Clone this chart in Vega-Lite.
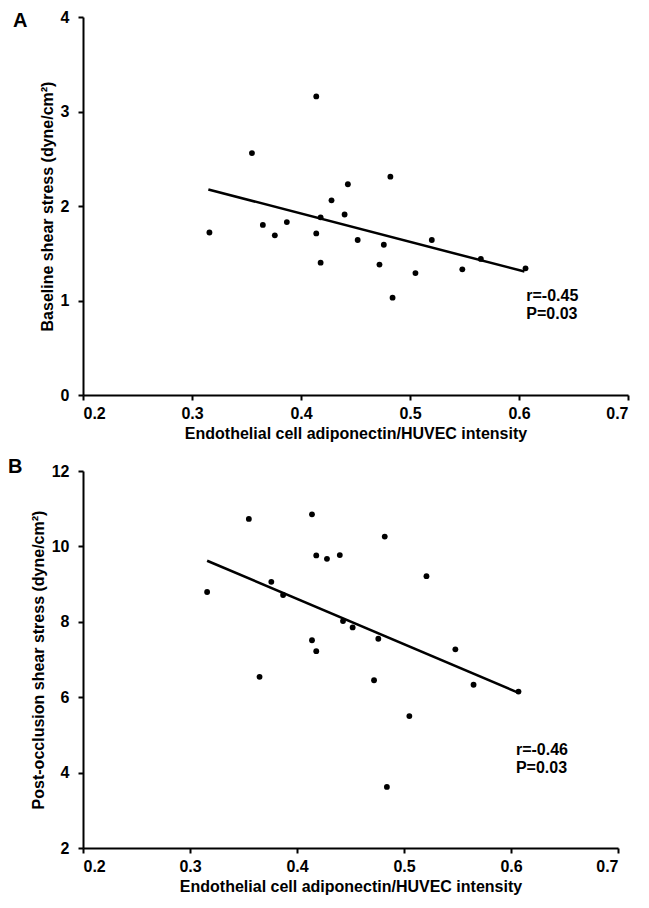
{
  "$schema": "https://vega.github.io/schema/vega-lite/v6.json",
  "padding": {"left": 8, "top": 9, "right": 5, "bottom": 5},
  "background": "white",
  "bounds": "flush",
  "spacing": 76,
  "datasets": {
    "ptsA": [
      {"x": 0.316, "y": 1.72}, {"x": 0.355, "y": 2.56}, {"x": 0.365, "y": 1.80}, {"x": 0.376, "y": 1.69},
      {"x": 0.387, "y": 1.83}, {"x": 0.414, "y": 3.16}, {"x": 0.414, "y": 1.71}, {"x": 0.418, "y": 1.88},
      {"x": 0.418, "y": 1.40}, {"x": 0.428, "y": 2.06}, {"x": 0.440, "y": 1.91}, {"x": 0.443, "y": 2.23},
      {"x": 0.452, "y": 1.64}, {"x": 0.472, "y": 1.38}, {"x": 0.476, "y": 1.59}, {"x": 0.482, "y": 2.31},
      {"x": 0.484, "y": 1.03}, {"x": 0.505, "y": 1.29}, {"x": 0.520, "y": 1.64}, {"x": 0.548, "y": 1.33},
      {"x": 0.565, "y": 1.44}, {"x": 0.606, "y": 1.34}
    ],
    "fitA": [{"x": 0.315, "y": 2.175}, {"x": 0.605, "y": 1.306}],
    "txtA": [{"x": 0.6067, "y": 1.0, "t": "r=-0.45"}, {"x": 0.6067, "y": 0.805, "t": "P=0.03"}],
    "ptsB": [
      {"x": 0.316, "y": 8.79}, {"x": 0.355, "y": 10.73}, {"x": 0.365, "y": 6.54}, {"x": 0.376, "y": 9.06},
      {"x": 0.387, "y": 8.71}, {"x": 0.414, "y": 10.85}, {"x": 0.414, "y": 7.51}, {"x": 0.418, "y": 9.76},
      {"x": 0.418, "y": 7.22}, {"x": 0.428, "y": 9.67}, {"x": 0.440, "y": 9.77}, {"x": 0.443, "y": 8.02},
      {"x": 0.452, "y": 7.85}, {"x": 0.472, "y": 6.45}, {"x": 0.476, "y": 7.55}, {"x": 0.482, "y": 10.26},
      {"x": 0.484, "y": 3.62}, {"x": 0.505, "y": 5.50}, {"x": 0.521, "y": 9.21}, {"x": 0.548, "y": 7.27},
      {"x": 0.565, "y": 6.33}, {"x": 0.607, "y": 6.15}
    ],
    "fitB": [{"x": 0.316, "y": 9.62}, {"x": 0.606, "y": 6.13}],
    "txtB": [{"x": 0.6046, "y": 4.465, "t": "r=-0.46"}, {"x": 0.6046, "y": 3.98, "t": "P=0.03"}]
  },
  "config": {
    "font": "Liberation Sans",
    "view": {"stroke": null},
    "axis": {
      "grid": false,
      "domainColor": "black",
      "domainWidth": 2,
      "tickColor": "black",
      "tickWidth": 2,
      "tickSize": 5,
      "labelFont": "Liberation Sans",
      "labelFontSize": 16,
      "labelFontWeight": "bold",
      "labelColor": "black",
      "titleFont": "Liberation Sans",
      "titleFontSize": 16,
      "titleFontWeight": "bold",
      "titleColor": "black"
    },
    "axisX": {"labelPadding": 5, "titlePadding": 4},
    "axisY": {"labelPadding": 9, "titlePadding": 5},
    "title": {
      "font": "Liberation Sans",
      "fontSize": 20,
      "fontWeight": "bold",
      "color": "black",
      "anchor": "start",
      "frame": "group",
      "offset": 0,
      "baseline": "alphabetic"
    }
  },
  "vconcat": [
    {
      "width": 545,
      "height": 378,
      "title": {"text": "A", "dx": -70, "dy": 25.6},
      "layer": [
        {
          "data": {"name": "ptsA"},
          "mark": {"type": "circle", "size": 34, "color": "black", "opacity": 1},
          "encoding": {
            "x": {"field": "x", "type": "quantitative", "scale": {"domain": [0.2, 0.7], "nice": false, "zero": false},
                  "axis": {"values": [0.2, 0.3, 0.4, 0.5, 0.6, 0.7], "format": ".1f", "title": "Endothelial cell adiponectin/HUVEC intensity"}},
            "y": {"field": "y", "type": "quantitative", "scale": {"domain": [0, 4], "nice": false},
                  "axis": {"values": [0, 1, 2, 3, 4], "format": "d", "title": "Baseline shear stress (dyne/cm²)"}}
          }
        },
        {
          "data": {"name": "fitA"},
          "mark": {"type": "line", "color": "black", "strokeWidth": 2.5},
          "encoding": {
            "x": {"field": "x", "type": "quantitative"},
            "y": {"field": "y", "type": "quantitative"}
          }
        },
        {
          "data": {"name": "txtA"},
          "mark": {"type": "text", "align": "left", "baseline": "alphabetic", "fontSize": 16, "fontWeight": "bold", "color": "black"},
          "encoding": {
            "x": {"field": "x", "type": "quantitative"},
            "y": {"field": "y", "type": "quantitative"},
            "text": {"field": "t"}
          }
        }
      ]
    },
    {
      "width": 535,
      "height": 377,
      "title": {"text": "B", "dx": -75, "dy": 18.3},
      "layer": [
        {
          "data": {"name": "ptsB"},
          "mark": {"type": "circle", "size": 34, "color": "black", "opacity": 1},
          "encoding": {
            "x": {"field": "x", "type": "quantitative", "scale": {"domain": [0.2, 0.7], "nice": false, "zero": false},
                  "axis": {"values": [0.2, 0.3, 0.4, 0.5, 0.6, 0.7], "format": ".1f", "title": "Endothelial cell adiponectin/HUVEC intensity"}},
            "y": {"field": "y", "type": "quantitative", "scale": {"domain": [2, 12], "nice": false, "zero": false},
                  "axis": {"values": [2, 4, 6, 8, 10, 12], "format": "d", "title": "Post-occlusion shear stress (dyne/cm²)"}}
          }
        },
        {
          "data": {"name": "fitB"},
          "mark": {"type": "line", "color": "black", "strokeWidth": 2.5},
          "encoding": {
            "x": {"field": "x", "type": "quantitative"},
            "y": {"field": "y", "type": "quantitative"}
          }
        },
        {
          "data": {"name": "txtB"},
          "mark": {"type": "text", "align": "left", "baseline": "alphabetic", "fontSize": 16, "fontWeight": "bold", "color": "black"},
          "encoding": {
            "x": {"field": "x", "type": "quantitative"},
            "y": {"field": "y", "type": "quantitative"},
            "text": {"field": "t"}
          }
        }
      ]
    }
  ]
}
